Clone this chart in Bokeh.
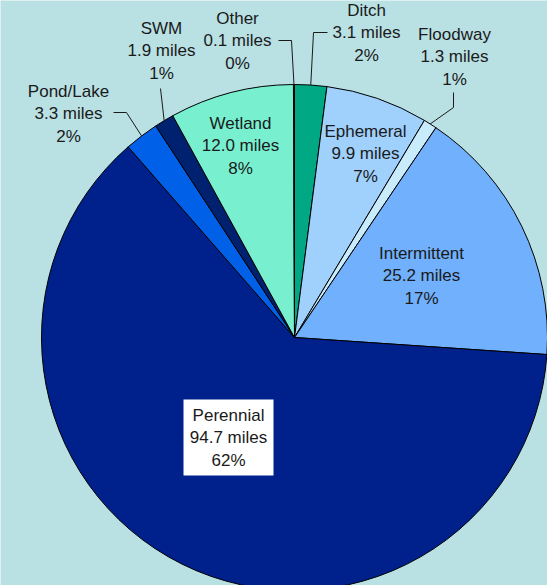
import numpy as np
from bokeh.plotting import figure
from bokeh.models import Range1d, ColumnDataSource
from bokeh.core.properties import value
from bokeh.embed import file_html
from bokeh.resources import INLINE

# Stream miles by type, clockwise from 12 o'clock
categories = ["Ditch", "Ephemeral", "Floodway", "Intermittent", "Perennial",
              "Pond/Lake", "SWM", "Wetland", "Other"]
miles = [3.1, 9.9, 1.3, 25.2, 94.7, 3.3, 1.9, 12.0, 0.1]
percents = [2, 7, 1, 17, 62, 2, 1, 8, 0]
colors = ["#00a884", "#a0d0fc", "#c8ecfc", "#70b0fc", "#00218c",
          "#0060e8", "#002070", "#78f0d0", "#f0f0f0"]

W, H = 547, 585
BG = "#b9e0e3"
CX, CY, R = 294, 337, 253      # pie centre / radius in screen pixels
LINE_GAP = 22.5
FONT = "Liberation Sans"


def fy(y):
    """screen y (down) -> plot y (up)"""
    return H - y


total = float(sum(miles))
frac = np.array(miles) / total
cum_end = np.cumsum(frac)
cum_start = cum_end - frac
start_angle = np.pi / 2 - cum_end * 2 * np.pi
end_angle = np.pi / 2 - cum_start * 2 * np.pi
mid_angle = (start_angle + end_angle) / 2

p = figure(width=W, height=H, x_range=Range1d(0, W), y_range=Range1d(0, H),
           output_backend="svg", toolbar_location=None, min_border=0)
p.axis.visible = False
p.grid.visible = False
p.outline_line_color = None
p.background_fill_color = BG
p.border_fill_color = BG

wsrc = ColumnDataSource(dict(start=start_angle, end=end_angle, color=colors))
p.wedge(x=CX, y=fy(CY), radius=R, start_angle="start", end_angle="end",
        fill_color="color", line_color="black", line_width=1,
        direction="anticlock", source=wsrc)


def edge_point(i):
    a = mid_angle[i]
    return CX + R * np.cos(a), fy(CY) + R * np.sin(a)


# Leader lines: elbow points (screen px) then the slice edge
leaders = {
    "Other": [(278, 40), (291, 40)],
    "Ditch": [(327, 32), (313, 32)],
    "Floodway": [(453, 92), (453, 107)],
    "SWM": [(160, 88)],
    "Pond/Lake": [(113, 112), (126, 112)],
}
xs, ys = [], []
for name, pts in leaders.items():
    i = categories.index(name)
    ex, ey = edge_point(i)
    xs.append([x for x, _ in pts] + [ex])
    ys.append([fy(y) for _, y in pts] + [ey])
p.multi_line(xs=xs, ys=ys, line_color="#1a1a1a", line_width=1)

# Label anchors: centre of the middle text row (screen px)
anchors = {
    "Ditch": (366, 32),
    "Ephemeral": (365, 153),
    "Floodway": (454, 56),
    "Intermittent": (421, 275),
    "Perennial": (228, 437),
    "Pond/Lake": (68, 113),
    "SWM": (161, 50),
    "Wetland": (240, 145),
    "Other": (237, 40),
}

# White box behind the Perennial label
px_, py_ = anchors["Perennial"]
p.quad(left=px_ - 45, right=px_ + 45, top=fy(py_ - 38), bottom=fy(py_ + 38),
       fill_color="white", line_color=None)

tx, ty, tt = [], [], []
for i, name in enumerate(categories):
    ax, ay = anchors[name]
    rows = [name, f"{miles[i]:.1f} miles", f"{percents[i]}%"]
    for k, row in enumerate(rows):
        tx.append(ax)
        ty.append(fy(ay + (k - 1) * LINE_GAP))
        tt.append(row)

p.text(x=tx, y=ty, text=tt, text_font=value(FONT), text_font_size="17px",
       text_color="#1a1a1a", text_align="center", text_baseline="middle")

open("out.html", "w").write(file_html(p, INLINE))
